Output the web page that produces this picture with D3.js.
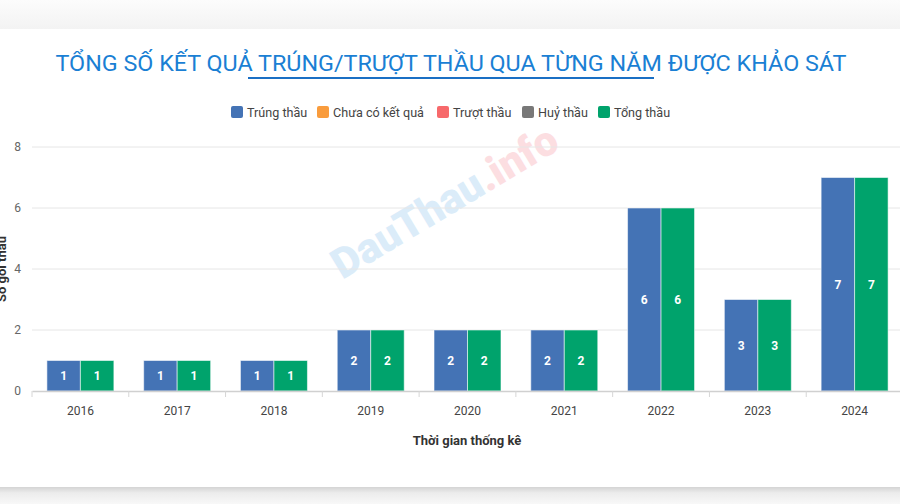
<!DOCTYPE html>
<html><head><meta charset="utf-8">
<script src="https://cdn.jsdelivr.net/npm/d3@7/dist/d3.min.js"></script>
<style>
html,body{margin:0;padding:0;background:#fff;}
svg{display:block;font-family:Roboto,"Noto Sans",Arial,sans-serif;}
</style></head>
<body><svg id="c" width="900" height="504"></svg>
<script>
const years = ["2016","2017","2018","2019","2020","2021","2022","2023","2024"];
const seriesNames = ["Trúng thầu","Chưa có kết quả","Trượt thầu","Huỷ thầu","Tổng thầu"];
const trungThau = [1,1,1,2,2,2,6,3,7];
const chuaCoKetQua = [0,0,0,0,0,0,0,0,0];
const truotThau = [0,0,0,0,0,0,0,0,0];
const huyThau = [0,0,0,0,0,0,0,0,0];
const tongThau = [1,1,1,2,2,2,6,3,7];
const yTicks = [0,2,4,6,8];
const colors = ["#4473b5","#f99c3d","#f7696b","#787878","#00a36c"];
const titleText = "TỔNG SỐ KẾT QUẢ TRÚNG/TRƯỢT THẦU QUA TỪNG NĂM ĐƯỢC KHẢO SÁT";

const allSeries = [trungThau, chuaCoKetQua, truotThau, huyThau, tongThau];
const svg = d3.select("#c");

// page background / card
const defs = svg.append("defs");
const g1 = defs.append("linearGradient").attr("id","topg").attr("x1",0).attr("y1",0).attr("x2",0).attr("y2",1);
g1.append("stop").attr("offset","0%").attr("stop-color","#fcfcfc");
g1.append("stop").attr("offset","100%").attr("stop-color","#f3f3f3");
const g2 = defs.append("linearGradient").attr("id","botg").attr("x1",0).attr("y1",0).attr("x2",0).attr("y2",1);
g2.append("stop").attr("offset","0%").attr("stop-color","#d4d4d4");
g2.append("stop").attr("offset","35%").attr("stop-color","#ececec");
g2.append("stop").attr("offset","100%").attr("stop-color","#f8f8f8");
svg.append("rect").attr("x",0).attr("y",0).attr("width",900).attr("height",29).attr("fill","url(#topg)");
svg.append("rect").attr("x",0).attr("y",487).attr("width",900).attr("height",17).attr("fill","url(#botg)");

// watermark
const wm = svg.append("text").attr("transform","translate(452,214) rotate(-31)")
  .attr("text-anchor","middle").attr("font-size",42).attr("font-weight",900)
  .attr("font-family","Roboto, sans-serif").attr("opacity",0.75);
wm.append("tspan").attr("fill","#cfe6f7").text("DauThau");
wm.append("tspan").attr("fill","#fbd3d8").text(".info");

// title
svg.append("text").attr("x",451).attr("y",71).attr("text-anchor","middle")
  .attr("font-size",22).attr("fill","#1a7fd4").attr("textLength",791).attr("lengthAdjust","spacingAndGlyphs")
  .text(titleText);
svg.append("rect").attr("x",248).attr("y",77).attr("width",406).attr("height",2).attr("fill","#1a6fc4");

// legend
const legendX = [231, 317, 437, 522, 598];
const lg = svg.append("g");
seriesNames.forEach((n,i)=>{
  lg.append("rect").attr("x",legendX[i]).attr("y",106).attr("width",12).attr("height",12).attr("rx",2).attr("fill",colors[i]);
  lg.append("text").attr("x",legendX[i]+16).attr("y",116.5).attr("font-size",12.6).attr("fill","#444").text(n);
});

// scales
const x = d3.scaleBand().domain(years).range([32, 903]);
const y = d3.scaleLinear().domain([0,8]).range([391,147]);

// grid
svg.append("g").selectAll("line").data(yTicks.slice(1)).join("line")
  .attr("x1",32).attr("x2",900).attr("y1",d=>y(d)).attr("y2",d=>y(d))
  .attr("stroke","#e6e6e6").attr("stroke-width",1);

// y axis labels
const yAxis = d3.axisLeft(y).tickValues(yTicks).tickSize(0).tickPadding(0);
const ya = svg.append("g").attr("transform","translate(21,0)").call(yAxis);
ya.select(".domain").remove();
ya.selectAll("text").attr("font-size",12).attr("fill","#666").attr("font-family","Roboto, sans-serif");

// y title
svg.append("text").attr("transform","translate(6,269) rotate(-90)").attr("text-anchor","middle")
  .attr("font-size",13).attr("font-weight","bold").attr("fill","#333").text("Số gói thầu");

// bars
years.forEach((yr, gi)=>{
  const active = allSeries.map((s,i)=>({i, v:s[gi]})).filter(d=>d.v>0);
  const sub = d3.scaleBand().domain(active.map(d=>d.i)).range([x(yr), x(yr)+x.bandwidth()]).paddingOuter(0.445).paddingInner(0);
  const g = svg.append("g");
  g.selectAll("rect").data(active).join("rect")
    .attr("x",d=>sub(d.i)).attr("width",sub.bandwidth())
    .attr("y",d=>y(d.v)).attr("height",d=>y(0)-y(d.v))
    .attr("fill",d=>colors[d.i]).attr("stroke","rgba(255,255,255,0.55)").attr("stroke-width",1);
  g.selectAll("text").data(active).join("text")
    .attr("x",d=>sub(d.i)+sub.bandwidth()/2).attr("y",d=>(y(d.v)+y(0))/2+4.5)
    .attr("text-anchor","middle").attr("font-size",12).attr("font-weight","bold").attr("fill","#fff")
    .text(d=>d.v);
});

// x axis
const xAxis = d3.axisBottom(x).tickSize(0).tickPadding(15);
const xa = svg.append("g").attr("transform","translate(0,391)").call(xAxis);
xa.select(".domain").attr("stroke","#d0d0d0").attr("stroke-width",1.5);
xa.selectAll("text").attr("font-size",12).attr("fill","#444").attr("font-family","Roboto, sans-serif");
svg.append("g").selectAll("line").data(years).join("line")
  .attr("x1",d=>x(d)).attr("x2",d=>x(d)).attr("y1",391).attr("y2",397)
  .attr("stroke","#d6d6d6").attr("stroke-width",1);

// x title
svg.append("text").attr("x",467).attr("y",445).attr("text-anchor","middle")
  .attr("font-size",13).attr("font-weight","bold").attr("fill","#333").text("Thời gian thống kê");
</script></body></html>
